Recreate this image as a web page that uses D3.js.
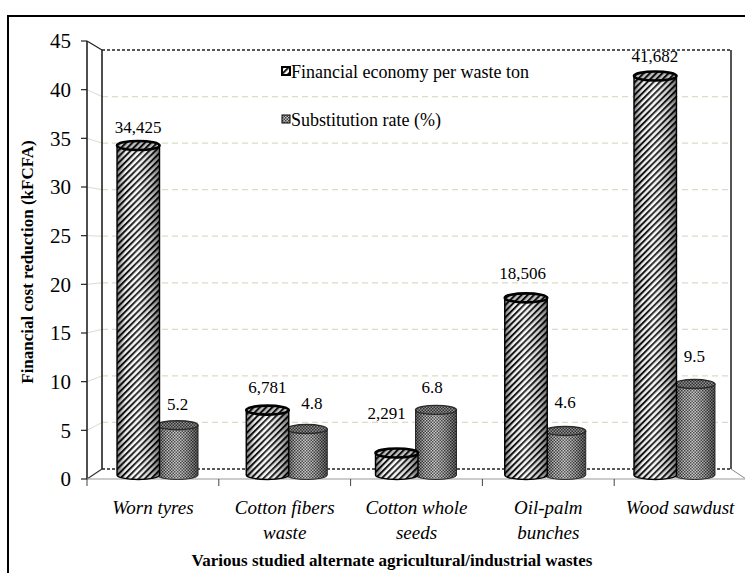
<!DOCTYPE html>
<html lang="en">
<head>
<meta charset="utf-8">
<title>Financial cost reduction by alternate waste</title>
<script src="https://cdn.jsdelivr.net/npm/d3@7/dist/d3.min.js"></script>
</head>
<body style="margin:0;background:#fff">
<div id="wrap"></div>
<script>
// Cost reduction and substitution rate for alternate agricultural / industrial wastes

const categories = ["Worn tyres", "Cotton fibers waste", "Cotton whole seeds", "Oil-palm bunches", "Wood sawdust"];
const categoryLines = [["Worn tyres"], ["Cotton fibers", "waste"], ["Cotton whole", "seeds"], ["Oil-palm", "bunches"], ["Wood sawdust"]];
const financialEconomy = [34.425, 6.781, 2.291, 18.506, 41.682];   // kFCFA per waste ton
const substitutionRate = [5.2, 4.8, 6.8, 4.6, 9.5];                // %
const financialLabels = ["34,425", "6,781", "2,291", "18,506", "41,682"];
const substitutionLabels = ["5.2", "4.8", "6.8", "4.6", "9.5"];
const yTicks = [0, 5, 10, 15, 20, 25, 30, 35, 40, 45];
const seriesNames = ["Financial economy per waste ton", "Substitution rate (%)"];
const yTitle = "Financial cost reduction (kFCFA)";
const xTitle = "Various studied alternate agricultural/industrial wastes";

// label placement tweaks [dx, dy] relative to the default spot above each cap
const finLabelNudge = [[0, 4], [0, 0], [-10, -17], [-3, -2], [0, 3]];
const subLabelNudge = [[0, 2], [5, -3], [-4, 0], [0, -6], [0, -5]];

const svg = d3.select("#wrap").append("svg")
  .attr("width", 745).attr("height", 573)
  .style("display", "block");
const defs = svg.append("defs");

// every text element uses the Times-style serif face
function label(parent, size, str) {
  return parent.append("text")
    .style("font-family", '"Times New Roman"')
    .style("font-size", size + "px")
    .attr("fill", "#000")
    .text(str);
}

// ---- fills ----
const stripes = defs.append("pattern")
  .attr("id", "stripes").attr("patternUnits", "userSpaceOnUse")
  .attr("width", 4.4).attr("height", 10)
  .attr("patternTransform", "rotate(45)");
stripes.append("rect").attr("width", 4.4).attr("height", 10).attr("fill", "#fff");
stripes.append("rect").attr("width", 2.0).attr("height", 10).attr("fill", "#111");

const checks = defs.append("pattern")
  .attr("id", "checks").attr("patternUnits", "userSpaceOnUse")
  .attr("width", 3).attr("height", 3);
checks.append("rect").attr("width", 3).attr("height", 3).attr("fill", "#c4c4c4");
checks.append("rect").attr("width", 1.5).attr("height", 1.5).attr("fill", "#3e3e3e");
checks.append("rect").attr("x", 1.5).attr("y", 1.5).attr("width", 1.5).attr("height", 1.5).attr("fill", "#3e3e3e");

function shade(id, stops) {
  const g = defs.append("linearGradient").attr("id", id)
    .attr("x1", "0%").attr("x2", "100%").attr("y1", "0%").attr("y2", "0%");
  stops.forEach(([o, c, a]) => g.append("stop").attr("offset", o).attr("stop-color", c).attr("stop-opacity", a));
}
shade("shadeFin", [["0%", "#000", 0.5], ["20%", "#000", 0.05], ["45%", "#fff", 0.15], ["80%", "#000", 0.2], ["100%", "#000", 0.55]]);
shade("shadeSub", [["0%", "#000", 0.45], ["25%", "#000", 0.0], ["45%", "#fff", 0.12], ["80%", "#000", 0.2], ["100%", "#000", 0.5]]);

// ---- perspective planes: front edge, back wall, and bar depth ----
const yFront = d3.scaleLinear().domain([0, 45]).range([479, 41]);
const yBack = d3.scaleLinear().domain([0, 45]).range([469, 50]);
const yBar = d3.scaleLinear().domain([0, 45]).range([475, 44.3]);
const xFront = d3.scaleBand().domain(categories).range([87, 746]);
const xBack = d3.scaleBand().domain(categories).range([102, 731]);
const xBar = d3.scaleBand().domain(categories).range([93.4, 739.6]);

// outer frame
svg.append("rect").attr("x", 8).attr("y", 16).attr("width", 800).attr("height", 600)
  .attr("fill", "none").attr("stroke", "#000").attr("stroke-width", 2);

const walls = svg.append("g");
// gridlines: side-wall segment + dashed line across the back wall
yTicks.forEach(v => {
  const edge = v === 0 || v === 45;
  if (!edge) {
    walls.append("line").attr("x1", xFront.range()[0]).attr("y1", yFront(v))
      .attr("x2", xBack.range()[0]).attr("y2", yBack(v))
      .attr("stroke", "#dcdccc").attr("stroke-width", 1);
  }
  walls.append("line").attr("x1", xBack.range()[0]).attr("y1", yBack(v))
    .attr("x2", xBack.range()[1]).attr("y2", yBack(v))
    .attr("stroke", edge ? "#222" : "#dcdcc8")
    .attr("stroke-width", edge ? 1.3 : 1.2)
    .attr("stroke-dasharray", edge ? "3,2" : "6,4");
});
// left side wall edges
const fx0 = xFront.range()[0], bx0 = xBack.range()[0], bx1 = xBack.range()[1], fx1 = xFront.range()[1];
walls.append("line").attr("x1", fx0).attr("y1", yFront(45)).attr("x2", fx0).attr("y2", yFront(0)).attr("stroke", "#222").attr("stroke-width", 1.6);
walls.append("line").attr("x1", bx0).attr("y1", yBack(45)).attr("x2", bx0).attr("y2", yBack(0)).attr("stroke", "#222").attr("stroke-width", 1.6);
walls.append("line").attr("x1", fx0).attr("y1", yFront(45)).attr("x2", bx0).attr("y2", yBack(45)).attr("stroke", "#222").attr("stroke-width", 1.2);
walls.append("line").attr("x1", fx0).attr("y1", yFront(0)).attr("x2", bx0).attr("y2", yBack(0)).attr("stroke", "#333").attr("stroke-width", 1.2);
// right wall edge and floor corner
walls.append("line").attr("x1", bx1).attr("y1", yBack(45)).attr("x2", bx1).attr("y2", yBack(0)).attr("stroke", "#555").attr("stroke-width", 2);
walls.append("line").attr("x1", bx1).attr("y1", yBack(0)).attr("x2", fx1).attr("y2", yFront(0)).attr("stroke", "#888").attr("stroke-width", 1);
// front category axis
walls.append("line").attr("x1", fx0).attr("y1", yFront(0)).attr("x2", fx1).attr("y2", yFront(0)).attr("stroke", "#999").attr("stroke-width", 1.2);
categories.forEach(c => {
  const x = xFront(c);
  walls.append("line").attr("x1", x).attr("y1", yFront(0)).attr("x2", x).attr("y2", yFront(0) + 7)
    .attr("stroke", "#444").attr("stroke-width", 1);
});

// value axis ticks and labels
const yAxis = svg.append("g");
yTicks.forEach(v => {
  yAxis.append("line").attr("x1", fx0 - 6).attr("x2", fx0).attr("y1", yFront(v)).attr("y2", yFront(v))
    .attr("stroke", "#222").attr("stroke-width", 1.2);
  label(yAxis, 21, String(v)).attr("x", fx0 - 16).attr("y", yFront(v)).attr("dy", "0.35em")
    .attr("text-anchor", "end");
});

// ---- cylinders ----
const RY = 4.5;
function cylinder(g, x0, x1, value, fill, shadeId, stroke, capStroke, sideStroke) {
  const yT = yBar(value), yB = yBar(0);
  const rx = (x1 - x0) / 2, cx = (x0 + x1) / 2;
  const body = `M${x0},${yT} L${x0},${yB} A${rx},${RY} 0 0 0 ${x1},${yB} L${x1},${yT} Z`;
  g.append("path").attr("d", body).attr("fill", fill);
  g.append("path").attr("d", body).attr("fill", `url(#${shadeId})`)
    .attr("stroke", stroke).attr("stroke-width", sideStroke);
  g.append("ellipse").attr("cx", cx).attr("cy", yT).attr("rx", rx).attr("ry", RY).attr("fill", fill);
  g.append("ellipse").attr("cx", cx).attr("cy", yT).attr("rx", rx).attr("ry", RY)
    .attr("fill", "#000").attr("fill-opacity", 0.25)
    .attr("stroke", stroke).attr("stroke-width", capStroke);
}

const bars = svg.append("g");
const center = c => xBar(c) + xBar.bandwidth() / 2;
categories.forEach((c, i) => {
  const cx = center(c);
  // substitution rate cylinder sits right of the financial one
  cylinder(bars, cx - 1, cx + 40, substitutionRate[i], "url(#checks)", "shadeSub", "#2a2a2a", 1.4, 1);
  cylinder(bars, cx - 41, cx + 1.5, financialEconomy[i], "url(#stripes)", "shadeFin", "#000", 2.6, 1.4);
});

// value labels
const labels = svg.append("g");
categories.forEach((c, i) => {
  const cx = center(c);
  label(labels, 17, financialLabels[i]).attr("text-anchor", "middle")
    .attr("x", cx - 20 + finLabelNudge[i][0])
    .attr("y", yBar(financialEconomy[i]) - 17 + finLabelNudge[i][1]);
  label(labels, 17, substitutionLabels[i]).attr("text-anchor", "middle")
    .attr("x", cx + 19.5 + subLabelNudge[i][0])
    .attr("y", yBar(substitutionRate[i]) - 17 + subLabelNudge[i][1]);
});

// category labels
const xLab = svg.append("g");
categories.forEach((c, i) => {
  const cx = xFront(c) + xFront.bandwidth() / 2;
  categoryLines[i].forEach((ln, j) => {
    label(xLab, 19, ln).attr("x", cx).attr("y", 514 + j * 25)
      .attr("text-anchor", "middle").style("font-style", "italic");
  });
});

// axis titles
label(svg, 17, xTitle).attr("x", 392).attr("y", 566).attr("text-anchor", "middle")
  .style("font-weight", "bold");
label(svg, 17, yTitle).attr("transform", "translate(33,262) rotate(-90)").attr("text-anchor", "middle")
  .style("font-weight", "bold");

// legend
const legend = svg.append("g");
[["url(#stripes)", 72], ["url(#checks)", 120]].forEach(([fill, y], i) => {
  legend.append("rect").attr("x", 282).attr("y", y - 5).attr("width", 8).attr("height", 8)
    .attr("fill", fill).attr("stroke", "#000").attr("stroke-width", i === 0 ? 2 : 1);
  label(legend, 18, seriesNames[i]).attr("x", 291).attr("y", y).attr("dy", "0.35em");
});
</script>
</body>
</html>
